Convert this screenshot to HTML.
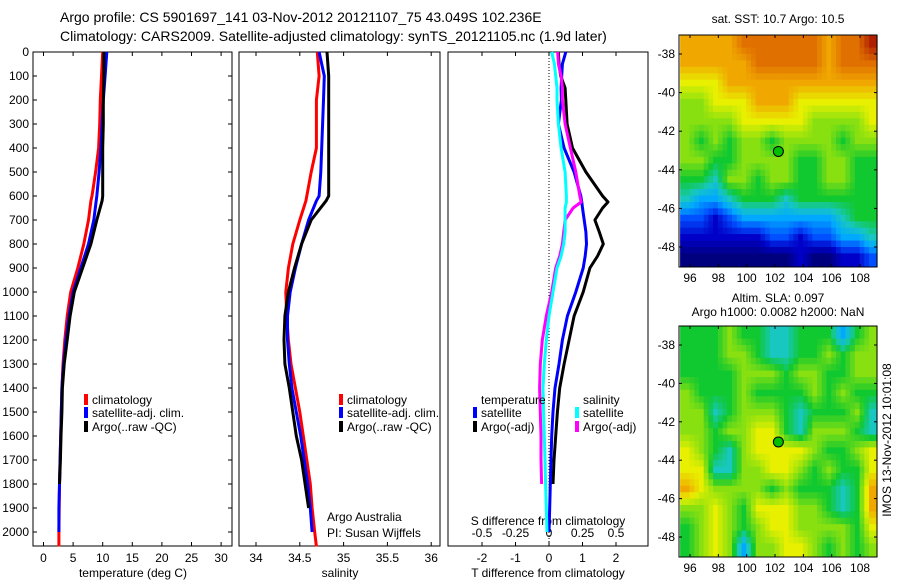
<!DOCTYPE html>
<html><head><meta charset="utf-8"><style>
html,body{margin:0;padding:0;background:#fff;}
svg{display:block;font-family:"Liberation Sans",sans-serif;}
</style></head><body>
<svg id="chart" width="900" height="580" viewBox="0 0 900 580" xmlns="http://www.w3.org/2000/svg">
<text x="60" y="22" font-size="14">Argo profile: CS 5901697_141 03-Nov-2012 20121107_75 43.049S 102.236E</text>
<text x="60" y="41" font-size="14">Climatology: CARS2009. Satellite-adjusted climatology: synTS_20121105.nc (1.9d later)</text>
<text x="778" y="23" font-size="12" text-anchor="middle">sat. SST: 10.7 Argo: 10.5</text>
<text x="778" y="302" font-size="12" text-anchor="middle">Altim. SLA: 0.097</text>
<text x="778" y="316" font-size="12" text-anchor="middle">Argo h1000: 0.0082 h2000: NaN</text>
<text x="0" y="0" font-size="12" text-anchor="middle" transform="translate(891,440) rotate(-90)">IMOS 13-Nov-2012 10:01:08</text>
<text x="327" y="521" font-size="12">Argo Australia</text>
<text x="327" y="537" font-size="12">PI: Susan Wijffels</text>
<g id="g"></g>
</svg>
<script>
// ---- data ----
const depthTicks = [0,100,200,300,400,500,600,700,800,900,1000,1100,1200,1300,1400,1500,1600,1700,1800,1900,2000];
const tempTicks = [0,5,10,15,20,25,30];
const salTicks = [34,34.5,35,35.5,36];
const salTickLabels = ["34","34.5","35","35.5","36"];
const tdiffTicks = [-2,-1,0,1,2];
const sdiffTicks = [-0.5,-0.25,0,0.25,0.5];
const sdiffTickLabels = ["-0.5","-0.25","0","0.25","0.5"];

const depthsProf = [0,100,200,300,400,500,600,620,700,800,900,1000,1100,1200,1300,1400,1500,1600,1700,1800,1900,2000,2060];
const tempClim = [10.0,9.8,9.6,9.5,9.3,8.8,8.2,8.0,7.6,6.8,5.8,4.6,4.0,3.6,3.3,3.1,3.0,2.9,2.8,2.7,2.65,2.6,2.6];
const tempSat = [10.7,10.4,10.1,9.9,9.7,9.4,9.0,8.9,8.5,7.6,6.3,5.0,4.3,3.8,3.4,3.1,3.0,2.9,2.8,2.7,2.6,2.6];
const tempArgo = [10.2,10.2,10.1,10.1,10.0,10.0,10.0,9.9,9.0,8.0,6.6,5.2,4.5,4.0,3.5,3.2,3.1,2.95,2.85,2.7];
const salClim = [34.70,34.72,34.69,34.69,34.69,34.63,34.58,34.57,34.50,34.42,34.37,34.34,34.35,34.37,34.40,34.45,34.50,34.54,34.58,34.62,34.64,34.67,34.69];
const salSat = [34.72,34.78,34.77,34.76,34.75,34.74,34.72,34.69,34.60,34.52,34.45,34.39,34.36,34.36,34.38,34.41,34.46,34.51,34.55,34.59,34.62,34.64];
const salArgo = [34.81,34.83,34.83,34.83,34.83,34.83,34.83,34.80,34.63,34.52,34.44,34.37,34.33,34.32,34.33,34.38,34.42,34.46,34.52,34.56,34.60];

const depthsDiff = [0,50,100,150,200,300,400,500,600,625,650,700,750,800,850,900,1000,1100,1200,1300,1400,1500,1600,1700,1800,1900,2000];
const tdiffSat = [0.5,0.4,0.38,0.36,0.37,0.28,0.45,0.75,0.95,0.98,1.0,1.05,1.1,1.12,1.08,1.02,0.8,0.55,0.4,0.3,0.18,0.12,0.08,0.06,0.04,0.02,0.0];
const tdiffArgo = [0.28,0.3,0.35,0.48,0.5,0.54,0.7,1.1,1.6,1.76,1.6,1.37,1.5,1.62,1.45,1.22,1.02,0.75,0.6,0.45,0.32,0.25,0.2,0.15,0.12];
const sdiffSat = [0.02,0.04,0.05,0.06,0.06,0.07,0.09,0.12,0.13,0.13,0.12,0.12,0.12,0.11,0.09,0.06,0.03,0.0,-0.02,-0.035,-0.045,-0.04,-0.035,-0.03,-0.025,-0.02,-0.015];
const sdiffArgo = [0.065,0.07,0.09,0.1,0.1,0.12,0.16,0.2,0.23,0.24,0.18,0.12,0.11,0.10,0.08,0.05,0.02,-0.02,-0.05,-0.065,-0.07,-0.065,-0.06,-0.06,-0.055];

const lonTicks = [96,98,100,102,104,106,108];
const latTicks = [-38,-40,-42,-44,-46,-48];
const argoLon = 102.236, argoLat = -43.049;
const sstGrid = [
"8888999999899A","88888999998999","77788888888888","66777888777777","66667777766667",
"65656656666566","66556666556655","55466566556655","43345554555555","22123333333455",
"11111122122334","00000000100112"];
const slaGrid = [
"55565544555356","55566544556566","55556665665566","65556555565655","66456665455564",
"66566775466654","76546777765567","77446677656557","87666656555458","66765777665458",
"56765677666657","56763667765656"];
const palette = ["#00007f","#0000c8","#0050ff","#00a8ff","#18c8c0","#10c830","#88e010","#e8f000","#f0a800","#e07000","#b02000"];

// ---- helpers ----
const NS="http://www.w3.org/2000/svg";
const G=document.getElementById('g');
function mk(tag,attrs,parent){const e=document.createElementNS(NS,tag);for(const k in attrs)e.setAttribute(k,attrs[k]);(parent||G).appendChild(e);return e;}
const TOP=52, BOT=546;
const yD = d => TOP + d*0.24;
const xT = t => 43.5 + t*5.92;
const xS = s => 256 + (s-34)*87.6;
const xTd = v => 549 + v*33.5;
const xSd = v => 549 + v*134;
const P1={l:33,r:232}, P2={l:239,r:440}, P3={l:448,r:648};

function frame(p,name){
  const r=mk('rect',{x:p.l,y:TOP,width:p.r-p.l,height:BOT-TOP,fill:'none',stroke:'#000','stroke-width':1});
  
  
}
function line(xs,ys,x2,y2,name){const l=mk('line',{x1:xs,y1:ys,x2:x2,y2:y2,stroke:'#000','stroke-width':1});return l;}
function txt(x,y,s,anchor,name,size){const t=mk('text',{x:x,y:y,'font-size':size||12,'text-anchor':anchor||'start'});t.textContent=s;return t;}
function prof(depths,vals,xf,color,name){
  const pts=[];for(let i=0;i<vals.length;i++)pts.push(xf(vals[i]).toFixed(1)+','+yD(depths[i]).toFixed(1));
  const p=mk('polyline',{points:pts.join(' '),fill:'none',stroke:color,'stroke-width':3,'stroke-linejoin':'round'});
  
  
}
function legend(x,y,color,label,name){
  const r=mk('rect',{x:x,y:y-6,width:4,height:11,fill:color});
  
  
  txt(x+8,y+4,label,'start',name);
}

frame(P1,'temperature-panel');frame(P2,'salinity-panel');frame(P3,'difference-panel');

depthTicks.forEach(d=>{
  const y=yD(d);
  txt(29,y+4,String(d),'end','depth-tick-label');
  line(P1.l,y,P1.l+4,y,'depth-tick');
  line(P1.r-4,y,P1.r,y,'depth-tick');
});
tempTicks.forEach(t=>{const x=xT(t);line(x,BOT,x,BOT-4,'temp-tick');line(x,TOP,x,TOP+4,'temp-tick');txt(x,562,String(t),'middle','temp-tick-label');});
salTicks.forEach((s,i)=>{const x=xS(s);line(x,BOT,x,BOT-4,'sal-tick');line(x,TOP,x,TOP+4,'sal-tick');txt(x,562,salTickLabels[i],'middle','sal-tick-label');});
tdiffTicks.forEach(v=>{const x=xTd(v);line(x,BOT,x,BOT-4,'tdiff-tick');line(x,TOP,x,TOP+4,'tdiff-tick');txt(x,562,String(v),'middle','tdiff-tick-label');});
sdiffTicks.forEach((v,i)=>{txt(xSd(v),537,sdiffTickLabels[i],'middle','sdiff-tick-label');});
txt(133,577,'temperature (deg C)','middle','temperature-axis-title');
txt(340,577,'salinity','middle','salinity-axis-title');
txt(548,577,'T difference from climatology','middle','tdiff-axis-title');
txt(548,525,'S difference from climatology','middle','sdiff-axis-title');

const zl=mk('line',{x1:xTd(0),y1:TOP,x2:xTd(0),y2:BOT,stroke:'#000','stroke-width':1,'stroke-dasharray':'1,2'});



prof(depthsProf,tempClim,xT,'#ff0000','temp-climatology-line');
prof(depthsProf,tempSat,xT,'#0000ff','temp-satellite-line');
prof(depthsProf,tempArgo,xT,'#000000','temp-argo-line');
prof(depthsProf,salClim,xS,'#ff0000','sal-climatology-line');
prof(depthsProf,salSat,xS,'#0000ff','sal-satellite-line');
prof(depthsProf,salArgo,xS,'#000000','sal-argo-line');
prof(depthsDiff,tdiffArgo,xTd,'#000000','tdiff-argo-line');
prof(depthsDiff,tdiffSat,xTd,'#0000ff','tdiff-satellite-line');
prof(depthsDiff,sdiffArgo,xSd,'#ff00ff','sdiff-argo-line');
prof(depthsDiff,sdiffSat,xSd,'#00ffff','sdiff-satellite-line');

legend(84,400,'#ff0000','climatology','legend-temp-climatology');
legend(84,413,'#0000ff','satellite-adj. clim.','legend-temp-satellite');
legend(84,427,'#000000','Argo(..raw -QC)','legend-temp-argo');
legend(339,400,'#ff0000','climatology','legend-sal-climatology');
legend(339,413,'#0000ff','satellite-adj. clim.','legend-sal-satellite');
legend(339,427,'#000000','Argo(..raw -QC)','legend-sal-argo');
txt(481,404,'temperature','start','legend-temperature-header');
legend(473,413,'#0000ff','satellite','legend-tdiff-satellite');
legend(473,427,'#000000','Argo(-adj)','legend-tdiff-argo');
txt(583,404,'salinity','start','legend-salinity-header');
legend(575,413,'#00ffff','satellite','legend-sdiff-satellite');
legend(575,427,'#ff00ff','Argo(-adj)','legend-sdiff-argo');

// maps (bilinear-smoothed grids, continuous colour scale)
function hex2rgb(h){return [parseInt(h.substr(1,2),16),parseInt(h.substr(3,2),16),parseInt(h.substr(5,2),16)];}
const palRGB=palette.map(hex2rgb);
function colorFor(v){
  v=Math.max(0,Math.min(palette.length-1,v));
  const i=Math.min(palette.length-2,Math.floor(v)),f=v-i;
  const a=palRGB[i],b=palRGB[i+1];
  return 'rgb('+a.map((c,k)=>Math.round(c+(b[k]-c)*f)).join(',')+')';
}
function gv(grid,r,c){
  r=Math.max(0,Math.min(grid.length-1,r));c=Math.max(0,Math.min(grid[0].length-1,c));
  const ch=grid[r][c];return ch==='A'?10:parseInt(ch);
}
function sample(grid,fr,fc){
  const r0=Math.floor(fr),c0=Math.floor(fc),dr=fr-r0,dc=fc-c0;
  return gv(grid,r0,c0)*(1-dr)*(1-dc)+gv(grid,r0,c0+1)*(1-dr)*dc+gv(grid,r0+1,c0)*dr*(1-dc)+gv(grid,r0+1,c0+1)*dr*dc;
}
function drawMap(grid,top,bot,name){
  const L=679,R=877;
  const lonX=lon=>690+(lon-96)*14.17;
  const latY=lat=>top+19+(-38-lat)*(bot-top-39)/10;
  const g=mk('g',{});
  
  
  const rows=grid.length, cols=grid[0].length, S=3;
  const lon0=95.3,lon1=109.3,lat0=-37.0,lat1=-49.0;
  for(let r=0;r<rows*S;r++)for(let c=0;c<cols*S;c++){
    const v=sample(grid,(r+0.5)/S-0.5,(c+0.5)/S-0.5);
    const x0=lonX(lon0+(lon1-lon0)*c/(cols*S)), x1=lonX(lon0+(lon1-lon0)*(c+1)/(cols*S));
    const y0=latY(lat0+(lat1-lat0)*r/(rows*S)), y1=latY(lat0+(lat1-lat0)*(r+1)/(rows*S));
    const cell=mk('rect',{x:Math.max(L,x0).toFixed(1),y:Math.max(top,y0).toFixed(1),width:(Math.min(R,x1)-Math.max(L,x0)+0.6).toFixed(1),height:(Math.min(bot,y1)-Math.max(top,y0)+0.6).toFixed(1),fill:colorFor(v)},g);
    
    
  }
  const fr=mk('rect',{x:L,y:top,width:R-L,height:bot-top,fill:'none',stroke:'#000'});
  
  
  lonTicks.forEach(lo=>{const x=lonX(lo);line(x,bot,x,bot-3,'lon-tick');line(x,top,x,top+3,'lon-tick');txt(x,bot+15,String(lo),'middle','lon-tick-label');});
  latTicks.forEach(la=>{const y=latY(la);line(L,y,L+3,y,'lat-tick');line(R-3,y,R,y,'lat-tick');txt(L-4,y+4,String(la),'end','lat-tick-label');});
  const m=mk('circle',{cx:lonX(argoLon),cy:latY(argoLat),r:5,fill:'#00c000',stroke:'#000','stroke-width':1});
  
  
}
drawMap(sstGrid,35,267,'sst-map');
drawMap(slaGrid,326,557,'sla-map');
</script>
</body></html>
